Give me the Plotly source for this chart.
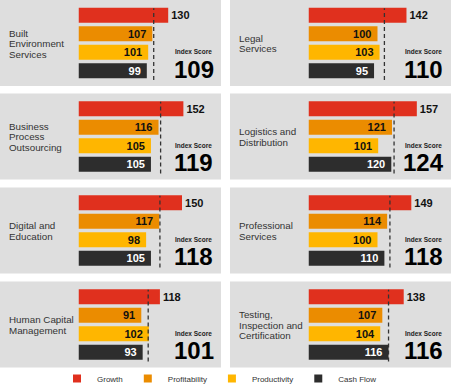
import plotly.graph_objects as go

W, H = 451, 384

sectors = [
    "Built\nEnvironment\nServices",
    "Legal\nServices",
    "Business\nProcess\nOutsourcing",
    "Logistics and\nDistribution",
    "Digital and\nEducation",
    "Professional\nServices",
    "Human Capital\nManagement",
    "Testing,\nInspection and\nCertification",
]
metrics = ["Growth", "Profitability", "Productivity", "Cash Flow"]
growth = [130, 142, 152, 157, 150, 149, 118, 138]
profitability = [107, 100, 116, 121, 117, 114, 91, 107]
productivity = [101, 103, 105, 101, 98, 100, 102, 104]
cash_flow = [99, 95, 105, 120, 105, 110, 93, 116]
index_score = [109, 110, 119, 124, 118, 118, 101, 116]

colors = ["#e0301e", "#eb8c00", "#ffb600", "#2d2d2d"]
label_colors = ["#111111", "#111111", "#111111", "#ffffff"]
FONT = "Arial, 'Liberation Sans', Helvetica, sans-serif"

series = [growth, profitability, productivity, cash_flow]

panel_left = [0, 230]
panel_w = [221, 221]
panel_top = [0, 93.5, 187.5, 281.5]
panel_h = 86
X_MAX = 165
PX_PER_UNIT = 0.69


def px(x):
    return x / W


def py(y):
    return 1 - y / H


fig = go.Figure()
layout_axes = {}
shapes = []
annotations = []

for i, name in enumerate(sectors):
    r, c = divmod(i, 2)
    L = panel_left[c]
    T = panel_top[r]
    ax = "" if i == 0 else str(i + 1)
    xa, ya = "x" + ax, "y" + ax

    # panel background
    shapes.append(dict(type="rect", xref="paper", yref="paper",
                       x0=px(L), x1=px(L + panel_w[c]),
                       y0=py(T + panel_h), y1=py(T),
                       fillcolor="#dedede", line=dict(width=0), layer="below"))

    for m, (mname, vals) in enumerate(zip(metrics, series)):
        v = vals[i]
        is_growth = m == 0
        fig.add_trace(go.Bar(
            x=[v], y=[mname], orientation="h",
            xaxis=xa, yaxis=ya,
            marker=dict(color=colors[m], line=dict(width=0)),
            text=[str(v) if is_growth else str(v) + "\u00a0"],
            textposition="outside" if is_growth else "inside",
            insidetextanchor="end",
            textangle=0,
            constraintext="none",
            cliponaxis=False,
            textfont=dict(family=FONT, size=11, color=label_colors[m], weight="bold"),
            outsidetextfont=dict(family=FONT, size=11, color="#111111", weight="bold"),
            insidetextfont=dict(family=FONT, size=11, color=label_colors[m], weight="bold"),
            showlegend=False, hoverinfo="skip",
        ))

    bar_x0 = L + 78.5
    layout_axes["xaxis" + ax] = dict(
        domain=[px(bar_x0), px(bar_x0 + PX_PER_UNIT * X_MAX)],
        range=[0, X_MAX], visible=False, fixedrange=True, anchor=ya)
    layout_axes["yaxis" + ax] = dict(
        domain=[py(T + 80), py(T + 6)],
        type="category", categoryorder="array", categoryarray=metrics,
        autorange="reversed", visible=False, fixedrange=True, anchor=xa)

    # dashed index-score marker
    shapes.append(dict(type="line", xref=xa, yref=ya + " domain",
                       x0=index_score[i], x1=index_score[i], y0=0.0, y1=0.97,
                       line=dict(color="#333333", width=1.3, dash="4px,3px"),
                       layer="above"))

    # sector name lines
    lines = name.split("\n")
    n = len(lines)
    for j, ln in enumerate(lines):
        cy = T + 43.5 + (j - (n - 1) / 2) * 10.5
        annotations.append(dict(text=ln, x=px(L + 6.5), y=py(cy), xref="paper", yref="paper",
                                xanchor="left", yanchor="middle", showarrow=False,
                                font=dict(family=FONT, size=9.8, color="#333333")))

    annotations.append(dict(text="Index Score", x=px(L + 193.5), y=py(T + 51.8),
                            xref="paper", yref="paper", xanchor="center", yanchor="middle",
                            showarrow=False, borderpad=0,
                            font=dict(family=FONT, size=6.5, color="#222222", weight="bold")))
    annotations.append(dict(text=str(index_score[i]), x=px(L + 193.5), y=py(T + 69),
                            xref="paper", yref="paper", xanchor="center", yanchor="middle",
                            showarrow=False, borderpad=0,
                            font=dict(family=FONT, size=24, color="#000000", weight="bold")))

# legend entries
for m, mname in enumerate(metrics):
    fig.add_trace(go.Scatter(
        x=[None], y=[None], mode="markers", name=mname,
        marker=dict(symbol="square", size=8, color=colors[m]),
        xaxis="x", yaxis="y", showlegend=True, hoverinfo="skip"))

fig.update_layout(
    width=W, height=H,
    margin=dict(l=0, r=0, t=0, b=0, autoexpand=False),
    paper_bgcolor="#ffffff", plot_bgcolor="rgba(0,0,0,0)",
    barmode="group", bargap=0.19,
    shapes=shapes, annotations=annotations,
    showlegend=True,
    legend=dict(orientation="h", x=px(57), xanchor="left", y=py(378.5), yanchor="middle",
                font=dict(family=FONT, size=8, color="#333333"),
                bgcolor="rgba(0,0,0,0)", itemclick=False, itemdoubleclick=False),
    font=dict(family=FONT),
    **layout_axes,
)

fig.write_html("out.html",
               config={"displayModeBar": False, "staticPlot": True},
               post_script="document.body.style.margin='0';document.body.style.overflow='hidden';")
